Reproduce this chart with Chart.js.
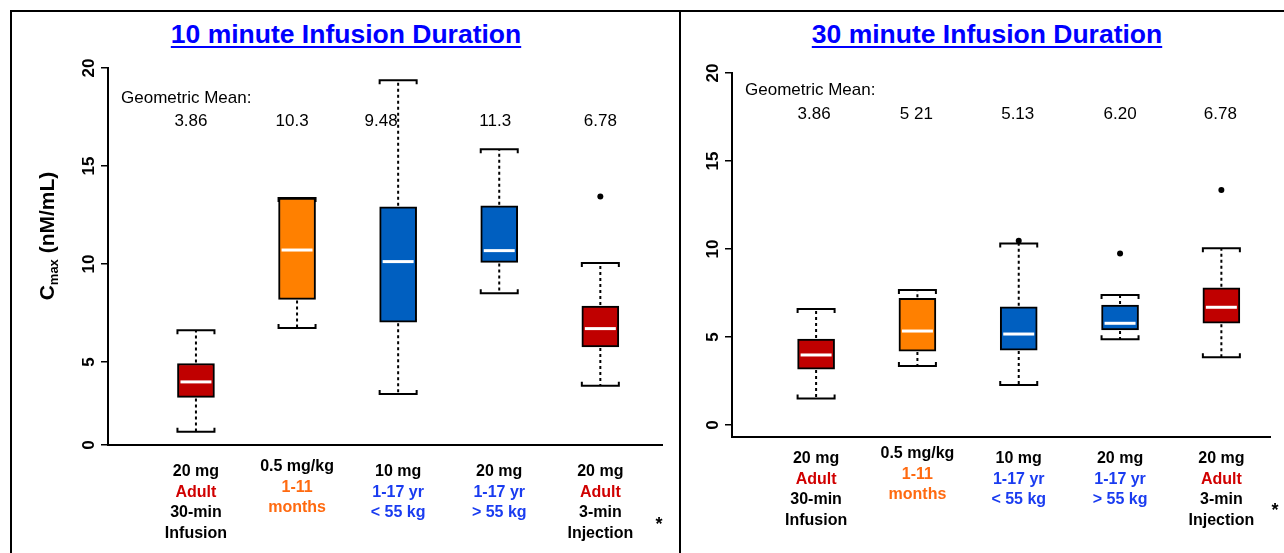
<!DOCTYPE html>
<html>
<head>
<meta charset="utf-8">
<script src="https://cdn.jsdelivr.net/npm/chart.js@4.4.0/dist/chart.umd.min.js"></script>
<style>
  body { margin: 0; width: 1284px; height: 553px; background: #fff; position: relative; overflow: hidden;
         font-family: "Liberation Sans", Arial, sans-serif; }
  .rule { position: absolute; background: #000; }
  .title { position: absolute; top: 19px; width: 500px; text-align: center; font-weight: bold;
           font-size: 26.5px; color: #0000ff; text-decoration: underline; text-decoration-thickness: 2px;
           text-underline-offset: 3px; }
  canvas { position: absolute; top: 0; }
</style>
</head>
<body>
<div class="rule" style="left:10px;top:10px;width:1274px;height:2px"></div>
<div class="rule" style="left:10px;top:10px;width:2px;height:543px"></div>
<div class="rule" style="left:679px;top:10px;width:2px;height:543px"></div>
<div class="title" style="left:96px">10 minute Infusion Duration</div>
<div class="title" style="left:737px">30 minute Infusion Duration</div>
<div style="position:absolute;left:0;top:0;width:680px;height:553px"><canvas id="tenMin"></canvas></div>
<div style="position:absolute;left:680px;top:0;width:604px;height:553px"><canvas id="thirtyMin"></canvas></div>

<script>
"use strict"

// groups, left to right
const doseText = ['20 mg', '0.5 mg/kg', '10 mg', '20 mg', '20 mg'];
const groupText = [['Adult'], ['1-11', 'months'], ['1-17 yr', '< 55 kg'], ['1-17 yr', '> 55 kg'], ['Adult']];
const routeText = [['30-min', 'Infusion'], [], [], [], ['3-min', 'Injection']];

// 10 minute infusion: whiskers, quartiles, medians (nM/mL)
const tenMinLow = [1.44, 6.73, 3.36, 8.51, 3.78];
const tenMinQ1 = [3.19, 8.19, 7.03, 10.08, 5.76];
const tenMinMedian = [3.98, 10.71, 10.12, 10.68, 6.70];
const tenMinQ3 = [4.92, 13.36, 12.92, 12.97, 7.85];
const tenMinHigh = [6.61, 13.36, 19.37, 15.85, 10.05];
const tenMinOutliers = [[], [], [], [], [13.44]];
const tenMinGeoMean = ['3.86', '10.3', '9.48', '11.3', '6.78'];

// 30 minute infusion
const thirtyMinLow = [1.51, 3.35, 2.27, 4.87, 3.85];
const thirtyMinQ1 = [3.18, 4.20, 4.26, 5.40, 5.78];
const thirtyMinMedian = [3.98, 5.34, 5.17, 5.78, 6.69];
const thirtyMinQ3 = [4.89, 7.20, 6.72, 6.82, 7.80];
const thirtyMinHigh = [6.59, 7.67, 10.32, 7.39, 10.04];
const thirtyMinOutliers = [[], [], [10.47], [9.75], [13.35]];
const thirtyMinGeoMean = ['3.86', '5 21', '5.13', '6.20', '6.78'];

const yTicks = [0, 5, 10, 15, 20];

const RED = '#c00000';
const ORANGE = '#ff8000';
const BLUE = '#005fc0';
const boxColors = [RED, ORANGE, BLUE, BLUE, RED];
const textColors = ['#d00000', '#ff6a10', '#1a3cf0', '#1a3cf0', '#d00000'];

const FONT = '"Liberation Sans", Arial, sans-serif';
const BOX_W = 37;

// whiskers, caps, medians and outliers on top of the floating bars
const boxPlugin = {
    id: 'boxExtras',
    afterDatasetsDraw(chart) {
        const {ctx, scales: {x, y}} = chart;
        const s = chart.options.plugins.boxExtras;
        const half = BOX_W / 2;
        ctx.save();
        s.median.forEach((m, i) => {
            const cx = x.getPixelForValue(i + 1);
            const lo = y.getPixelForValue(s.low[i]);
            const hi = y.getPixelForValue(s.high[i]);
            const q1 = y.getPixelForValue(s.q1[i]);
            const q3 = y.getPixelForValue(s.q3[i]);

            // dotted whiskers
            ctx.strokeStyle = '#000';
            ctx.lineWidth = 2;
            ctx.setLineDash([3, 3]);
            ctx.beginPath();
            if (hi < q3 - 1) { ctx.moveTo(cx, q3 - 1); ctx.lineTo(cx, hi); }
            if (lo > q1 + 1) { ctx.moveTo(cx, q1 + 1); ctx.lineTo(cx, lo); }
            ctx.stroke();
            ctx.setLineDash([]);

            // bracket caps
            ctx.beginPath();
            ctx.moveTo(cx - half, hi + 4); ctx.lineTo(cx - half, hi); ctx.lineTo(cx + half, hi); ctx.lineTo(cx + half, hi + 4);
            ctx.moveTo(cx - half, lo - 4); ctx.lineTo(cx - half, lo); ctx.lineTo(cx + half, lo); ctx.lineTo(cx + half, lo - 4);
            ctx.stroke();

            // median
            const my = y.getPixelForValue(m);
            ctx.strokeStyle = '#fff';
            ctx.lineWidth = 3;
            ctx.beginPath();
            ctx.moveTo(cx - half + 3, my); ctx.lineTo(cx + half - 3, my);
            ctx.stroke();

            ctx.fillStyle = '#000';
            s.outliers[i].forEach(v => {
                ctx.beginPath();
                ctx.arc(cx, y.getPixelForValue(v), 3, 0, Math.PI * 2);
                ctx.fill();
            });
        });
        ctx.restore();
    }
};

// tick labels, axis title, geometric means and group labels
const textPlugin = {
    id: 'panelText',
    afterDraw(chart) {
        const {ctx, chartArea, scales: {x, y}} = chart;
        const t = chart.options.plugins.panelText;
        ctx.save();
        ctx.fillStyle = '#000';
        ctx.textAlign = 'center';
        ctx.textBaseline = 'middle';

        // rotated tick labels
        ctx.font = 'bold 17px ' + FONT;
        y.ticks.forEach((tk, i) => {
            const py = y.getPixelForValue(tk.value);
            ctx.save();
            ctx.translate(chartArea.left - 19, py);
            ctx.rotate(-Math.PI / 2);
            ctx.fillText(t.tickLabels[i], 0, 0);
            ctx.restore();
        });

        if (t.yTitle) {
            ctx.save();
            ctx.translate(48, 236);
            ctx.rotate(-Math.PI / 2);
            ctx.textAlign = 'left';
            ctx.font = 'bold 21px ' + FONT;
            const wC = ctx.measureText('C').width;
            const rest = ' (nM/mL)';
            const wRest = ctx.measureText(rest).width;
            ctx.font = 'bold 13px ' + FONT;
            const wSub = ctx.measureText('max').width;
            let px = -(wC + wSub + wRest) / 2;
            ctx.font = 'bold 21px ' + FONT;
            ctx.fillText('C', px, 0);
            px += wC;
            ctx.font = 'bold 13px ' + FONT;
            ctx.fillText('max', px, 6);
            px += wSub;
            ctx.font = 'bold 21px ' + FONT;
            ctx.fillText(rest, px, 0);
            ctx.restore();
        }

        // geometric means
        ctx.font = '17px ' + FONT;
        ctx.textAlign = 'left';
        ctx.fillText('Geometric Mean:', chartArea.left + 13, t.gmTitleY);
        ctx.textAlign = 'center';
        t.geoMean.forEach((g, i) => {
            ctx.fillText(g, x.getPixelForValue(i + 1) + t.gmShift[i], t.gmValueY);
        });

        // group labels under the axis
        ctx.font = 'bold 16px ' + FONT;
        doseText.forEach((d, i) => {
            const cx = x.getPixelForValue(i + 1);
            let py = t.labelY + (i === 1 ? -5 : 0);
            ctx.fillStyle = '#000';
            ctx.fillText(d, cx, py);
            py += 20.5;
            ctx.fillStyle = textColors[i];
            groupText[i].forEach(s => { ctx.fillText(s, cx, py); py += 20.5; });
            ctx.fillStyle = '#000';
            routeText[i].forEach(s => { ctx.fillText(s, cx, py); py += 20.5; });
        });
        ctx.font = 'bold 18px ' + FONT;
        ctx.fillStyle = '#000';
        ctx.fillText('*', t.starX, t.starY);
        ctx.restore();
    }
};

const makePanel = (id, cfg) => {
    const boxes = cfg.q1.map((q, i) => ({x: i + 1, y: [q, cfg.q3[i]]}));
    return new Chart(document.getElementById(id), {
        type: 'bar',
        data: {
            datasets: [{
                data: boxes,
                backgroundColor: boxColors,
                borderColor: '#000',
                borderWidth: 2,
                borderSkipped: false,
                barThickness: BOX_W,
            }]
        },
        options: {
            responsive: true,
            maintainAspectRatio: false,
            animation: false,
            layout: {padding: cfg.padding},
            scales: {
                x: {
                    type: 'linear',
                    offset: false,
                    min: cfg.xMin,
                    max: cfg.xMax,
                    grid: {display: false, offset: false},
                    ticks: {display: false},
                    border: {color: '#000', width: 2},
                    afterFit: (s) => { s.height = 0; }
                },
                y: {
                    min: cfg.yMin,
                    max: 20,
                    grid: {drawOnChartArea: false, drawTicks: true, tickLength: 7, color: '#000', lineWidth: 1.5},
                    ticks: {display: false},
                    border: {color: '#000', width: 2},
                    afterBuildTicks: (s) => { s.ticks = cfg.tickValues.map(v => ({value: v})); },
                    afterFit: (s) => { s.width = cfg.axisLeft; }
                }
            },
            plugins: {
                legend: {display: false},
                tooltip: {enabled: false},
                boxExtras: {low: cfg.low, q1: cfg.q1, median: cfg.median, q3: cfg.q3, high: cfg.high, outliers: cfg.outliers},
                panelText: cfg.text
            }
        },
        plugins: [boxPlugin, textPlugin]
    });
};

// the left panel's axis stops short of zero; its "0" label sits at the axis foot
const tenMinFloor = 0.76;

makePanel('tenMin', {
    low: tenMinLow, q1: tenMinQ1, median: tenMinMedian, q3: tenMinQ3, high: tenMinHigh, outliers: tenMinOutliers,
    yMin: tenMinFloor, xMin: 0.13, xMax: 5.61,
    tickValues: [tenMinFloor, 5, 10, 15, 20],
    axisLeft: 108,
    padding: {top: 68, bottom: 108, left: 0, right: 18},
    text: {
        tickLabels: yTicks.map(String), yTitle: true,
        geoMean: tenMinGeoMean, gmShift: [-5, -5, -17, -4, 0],
        gmTitleY: 98, gmValueY: 121,
        labelY: 472, starX: 659, starY: 525
    }
});

makePanel('thirtyMin', {
    low: thirtyMinLow, q1: thirtyMinQ1, median: thirtyMinMedian, q3: thirtyMinQ3, high: thirtyMinHigh, outliers: thirtyMinOutliers,
    yMin: -0.68, xMin: 0.17, xMax: 5.48,
    tickValues: yTicks,
    axisLeft: 52,
    padding: {top: 73, bottom: 116, left: 0, right: 14},
    text: {
        tickLabels: yTicks.map(String), yTitle: false,
        geoMean: thirtyMinGeoMean, gmShift: [-2, -1, -1, 0, -1],
        gmTitleY: 90, gmValueY: 114,
        labelY: 459, starX: 595, starY: 511
    }
});
</script>
</body>
</html>
